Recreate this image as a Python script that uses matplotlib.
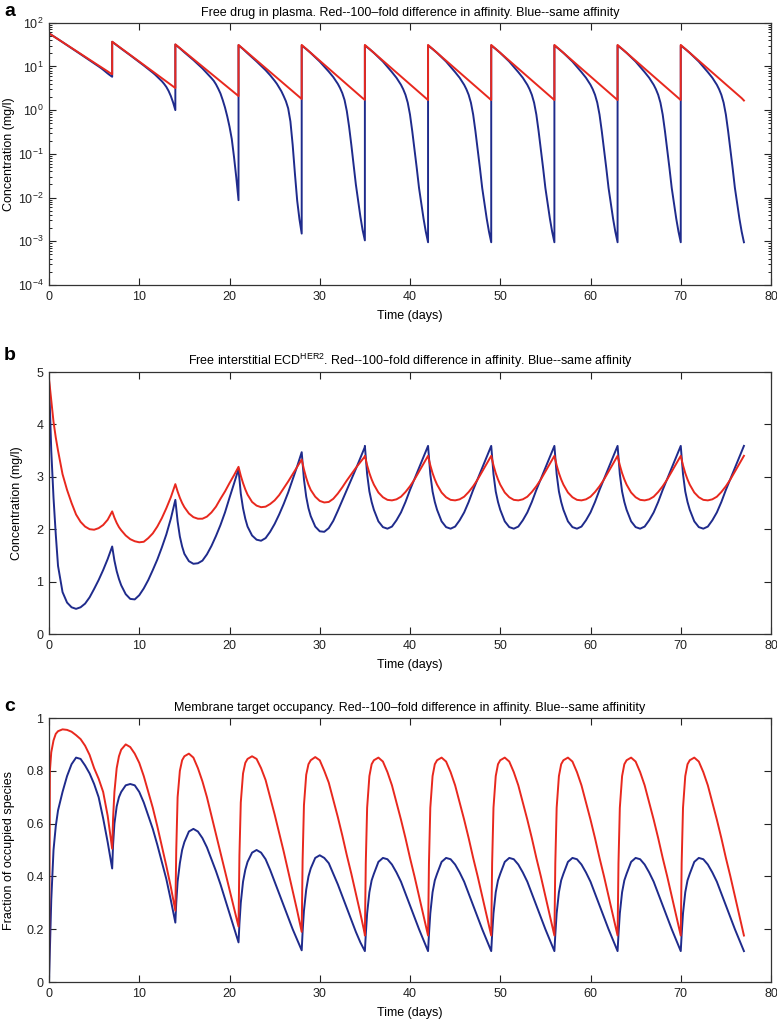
import numpy as np
import matplotlib
matplotlib.use("Agg")
import matplotlib.pyplot as plt
from matplotlib.ticker import LogLocator, NullFormatter, FixedLocator

plt.rcParams['font.family'] = ['Liberation Sans', 'DejaVu Sans']
plt.rcParams['mathtext.default'] = 'regular'

# ---------------- data ----------------
dose_days = [0, 7, 14, 21, 28, 35, 42, 49, 56, 63, 70]

# Panel a: free drug in plasma (mg/l), sampled at these offsets (days) after each dose
a_offsets = [0, 0.5, 1, 2, 3, 3.5, 4, 4.25, 4.5, 4.75, 5, 5.25, 5.5, 5.75, 6, 6.25, 6.5, 6.75, 7]
a_red = [
    57.1, 49.0, 42.0, 30.8, 22.7, 19.4, 16.6, 15.4, 14.3, 13.2, 12.2, 11.3, 10.5, 9.7, 9.0, 8.3, 7.7, 7.1, 6.6,
    36.8, 30.9, 26.0, 18.3, 12.9, 10.8, 9.1, 8.35, 7.65, 7.0, 6.4, 5.9, 5.4, 4.95, 4.5, 4.15, 3.8, 3.5, 3.2,
    32.0, 26.3, 21.7, 14.7, 9.95, 8.2, 6.75, 6.1, 5.55, 5.05, 4.57, 4.15, 3.77, 3.41, 3.1, 2.81, 2.55, 2.31, 2.1,
    31.0, 25.3, 20.6, 13.7, 9.15, 7.46, 6.09, 5.5, 4.97, 4.49, 4.05, 3.66, 3.31, 2.99, 2.7, 2.44, 2.2, 1.99, 1.8,
    31.0, 25.2, 20.5, 13.5, 8.93, 7.26, 5.9, 5.32, 4.8, 4.32, 3.9, 3.51, 3.16, 2.85, 2.57, 2.32, 2.09, 1.88, 1.72,
    31.0, 25.2, 20.5, 13.5, 8.93, 7.26, 5.9, 5.32, 4.8, 4.32, 3.9, 3.51, 3.16, 2.85, 2.57, 2.32, 2.09, 1.88, 1.70,
    31.0, 25.2, 20.5, 13.5, 8.93, 7.26, 5.9, 5.32, 4.8, 4.32, 3.9, 3.51, 3.16, 2.85, 2.57, 2.32, 2.09, 1.88, 1.70,
    31.0, 25.2, 20.5, 13.5, 8.93, 7.26, 5.9, 5.32, 4.8, 4.32, 3.9, 3.51, 3.16, 2.85, 2.57, 2.32, 2.09, 1.88, 1.70,
    31.0, 25.2, 20.5, 13.5, 8.93, 7.26, 5.9, 5.32, 4.8, 4.32, 3.9, 3.51, 3.16, 2.85, 2.57, 2.32, 2.09, 1.88, 1.70,
    31.0, 25.2, 20.5, 13.5, 8.93, 7.26, 5.9, 5.32, 4.8, 4.32, 3.9, 3.51, 3.16, 2.85, 2.57, 2.32, 2.09, 1.88, 1.70,
    31.0, 25.2, 20.5, 13.5, 8.93, 7.26, 5.9, 5.32, 4.8, 4.32, 3.9, 3.51, 3.16, 2.85, 2.57, 2.32, 2.09, 1.88, 1.66,
]
a_blue = [
    57.1, 49.0, 42.0, 30.5, 22.2, 19.0, 16.2, 15.0, 13.9, 12.8, 11.8, 10.9, 10.0, 9.2, 8.4, 7.6, 6.9, 6.3, 5.8,
    36.5, 30.5, 25.5, 18.0, 12.6, 10.5, 8.7, 7.9, 7.2, 6.5, 5.8, 5.2, 4.6, 4.0, 3.4, 2.75, 2.1, 1.5, 1.0,
    31.5, 26.0, 21.0, 14.0, 9.0, 7.0, 5.4, 4.7, 3.9, 3.1, 2.4, 1.7, 1.15, 0.72, 0.42, 0.22, 0.085, 0.029, 0.0087,
    30.5, 25.0, 20.0, 13.0, 8.2, 6.3, 4.7, 4.0, 3.3, 2.7, 2.1, 1.6, 1.1, 0.55, 0.16, 0.035, 0.0085, 0.0032, 0.0015,
    30.0, 25.0, 20.3, 12.9, 7.6, 5.7, 4.0, 3.2, 2.45, 1.7, 0.95, 0.42, 0.16, 0.058, 0.02, 0.0085, 0.0037, 0.0018, 0.00105,
    30.0, 25.0, 20.4, 12.9, 7.4, 5.5, 3.8, 3.0, 2.24, 1.48, 0.79, 0.33, 0.126, 0.047, 0.0166, 0.0074, 0.0033, 0.00166, 0.00095,
    30.0, 25.0, 20.4, 12.9, 7.4, 5.5, 3.8, 3.0, 2.24, 1.48, 0.79, 0.33, 0.126, 0.047, 0.0166, 0.0074, 0.0033, 0.00166, 0.00095,
    30.0, 25.0, 20.4, 12.9, 7.4, 5.5, 3.8, 3.0, 2.24, 1.48, 0.79, 0.33, 0.126, 0.047, 0.0166, 0.0074, 0.0033, 0.00166, 0.00095,
    30.0, 25.0, 20.4, 12.9, 7.4, 5.5, 3.8, 3.0, 2.24, 1.48, 0.79, 0.33, 0.126, 0.047, 0.0166, 0.0074, 0.0033, 0.00166, 0.00095,
    30.0, 25.0, 20.4, 12.9, 7.4, 5.5, 3.8, 3.0, 2.24, 1.48, 0.79, 0.33, 0.126, 0.047, 0.0166, 0.0074, 0.0033, 0.00166, 0.00095,
    30.0, 25.0, 20.4, 12.9, 7.4, 5.5, 3.8, 3.0, 2.24, 1.48, 0.79, 0.33, 0.126, 0.047, 0.0166, 0.0074, 0.0033, 0.00166, 0.00095,
]

# Panel b: free interstitial ECD-HER2 (mg/l)
b_offsets = [0, 0.25, 0.5, 0.75, 1, 1.5, 2, 2.5, 3, 3.5, 4, 4.5, 5, 5.5, 6, 6.5, 7]
b_red = [
    4.87, 4.45, 4.05, 3.75, 3.5, 3.05, 2.75, 2.5, 2.28, 2.14, 2.05, 2.0, 1.99, 2.02, 2.08, 2.18, 2.34,
    2.34, 2.22, 2.12, 2.04, 1.98, 1.88, 1.81, 1.77, 1.75, 1.76, 1.83, 1.92, 2.05, 2.21, 2.40, 2.61, 2.86,
    2.86, 2.72, 2.60, 2.50, 2.42, 2.30, 2.23, 2.20, 2.20, 2.24, 2.32, 2.43, 2.58, 2.72, 2.88, 3.03, 3.19,
    3.19, 3.02, 2.88, 2.76, 2.66, 2.52, 2.45, 2.42, 2.43, 2.48, 2.55, 2.65, 2.78, 2.91, 3.05, 3.19, 3.33,
    3.33, 3.14, 2.98, 2.85, 2.75, 2.62, 2.54, 2.51, 2.52, 2.58, 2.68, 2.80, 2.93, 3.05, 3.17, 3.28, 3.39,
    3.40, 3.22, 3.07, 2.95, 2.85, 2.70, 2.61, 2.56, 2.55, 2.57, 2.62, 2.71, 2.82, 2.95, 3.10, 3.25, 3.40,
    3.40, 3.22, 3.07, 2.95, 2.85, 2.70, 2.61, 2.56, 2.55, 2.57, 2.62, 2.71, 2.82, 2.95, 3.10, 3.25, 3.40,
    3.40, 3.22, 3.07, 2.95, 2.85, 2.70, 2.61, 2.56, 2.55, 2.57, 2.62, 2.71, 2.82, 2.95, 3.10, 3.25, 3.40,
    3.40, 3.22, 3.07, 2.95, 2.85, 2.70, 2.61, 2.56, 2.55, 2.57, 2.62, 2.71, 2.82, 2.95, 3.10, 3.25, 3.40,
    3.40, 3.22, 3.07, 2.95, 2.85, 2.70, 2.61, 2.56, 2.55, 2.57, 2.62, 2.71, 2.82, 2.95, 3.10, 3.25, 3.40,
    3.40, 3.22, 3.07, 2.95, 2.85, 2.70, 2.61, 2.56, 2.55, 2.57, 2.62, 2.71, 2.82, 2.95, 3.10, 3.25, 3.40,
]
b_blue = [
    4.85, 3.5, 2.6, 1.9, 1.3, 0.80, 0.60, 0.51, 0.48, 0.51, 0.58, 0.70, 0.86, 1.03, 1.22, 1.43, 1.67,
    1.67, 1.40, 1.20, 1.05, 0.93, 0.76, 0.67, 0.66, 0.74, 0.87, 1.03, 1.22, 1.42, 1.65, 1.90, 2.20, 2.56,
    2.56, 2.15, 1.86, 1.67, 1.53, 1.39, 1.34, 1.35, 1.40, 1.52, 1.68, 1.87, 2.08, 2.32, 2.60, 2.87, 3.15,
    3.15, 2.68, 2.40, 2.20, 2.05, 1.88, 1.80, 1.78, 1.83, 1.95, 2.10, 2.28, 2.48, 2.70, 2.95, 3.20, 3.47,
    3.47, 2.95, 2.62, 2.40, 2.25, 2.05, 1.96, 1.95, 2.02, 2.16, 2.35, 2.55, 2.75, 2.95, 3.15, 3.36, 3.57,
    3.59, 3.05, 2.72, 2.52, 2.37, 2.15, 2.04, 2.01, 2.05, 2.17, 2.32, 2.52, 2.75, 2.96, 3.17, 3.38, 3.59,
    3.59, 3.05, 2.72, 2.52, 2.37, 2.15, 2.04, 2.01, 2.05, 2.17, 2.32, 2.52, 2.75, 2.96, 3.17, 3.38, 3.59,
    3.59, 3.05, 2.72, 2.52, 2.37, 2.15, 2.04, 2.01, 2.05, 2.17, 2.32, 2.52, 2.75, 2.96, 3.17, 3.38, 3.59,
    3.59, 3.05, 2.72, 2.52, 2.37, 2.15, 2.04, 2.01, 2.05, 2.17, 2.32, 2.52, 2.75, 2.96, 3.17, 3.38, 3.59,
    3.59, 3.05, 2.72, 2.52, 2.37, 2.15, 2.04, 2.01, 2.05, 2.17, 2.32, 2.52, 2.75, 2.96, 3.17, 3.38, 3.59,
    3.59, 3.05, 2.72, 2.52, 2.37, 2.15, 2.04, 2.01, 2.05, 2.17, 2.32, 2.52, 2.75, 2.96, 3.17, 3.38, 3.59,
]

# Panel c: membrane target occupancy (fraction of occupied species)
c_offsets = [0, 0.1, 0.25, 0.5, 0.75, 1, 1.5, 2, 2.5, 3, 3.5, 4, 4.5, 5, 5.5, 6, 6.5, 7]
c_red = [
    0.0, 0.80, 0.87, 0.915, 0.94, 0.95, 0.957, 0.955, 0.948, 0.935, 0.92, 0.895, 0.86, 0.81, 0.77, 0.72, 0.63, 0.505,
    0.505, 0.62, 0.72, 0.81, 0.855, 0.88, 0.90, 0.89, 0.865, 0.83, 0.78, 0.72, 0.66, 0.59, 0.515, 0.44, 0.36, 0.27,
    0.27, 0.50, 0.70, 0.80, 0.84, 0.855, 0.865, 0.85, 0.81, 0.76, 0.70, 0.63, 0.56, 0.49, 0.42, 0.35, 0.28, 0.21,
    0.21, 0.48, 0.68, 0.79, 0.83, 0.845, 0.855, 0.845, 0.81, 0.765, 0.70, 0.635, 0.565, 0.495, 0.42, 0.345, 0.27, 0.19,
    0.19, 0.46, 0.67, 0.785, 0.825, 0.84, 0.852, 0.84, 0.80, 0.755, 0.69, 0.625, 0.555, 0.48, 0.41, 0.335, 0.26, 0.18,
    0.176, 0.45, 0.66, 0.78, 0.825, 0.84, 0.85, 0.835, 0.795, 0.745, 0.68, 0.615, 0.545, 0.47, 0.40, 0.325, 0.25, 0.176,
    0.176, 0.45, 0.66, 0.78, 0.825, 0.84, 0.85, 0.835, 0.795, 0.745, 0.68, 0.615, 0.545, 0.47, 0.40, 0.325, 0.25, 0.176,
    0.176, 0.45, 0.66, 0.78, 0.825, 0.84, 0.85, 0.835, 0.795, 0.745, 0.68, 0.615, 0.545, 0.47, 0.40, 0.325, 0.25, 0.176,
    0.176, 0.45, 0.66, 0.78, 0.825, 0.84, 0.85, 0.835, 0.795, 0.745, 0.68, 0.615, 0.545, 0.47, 0.40, 0.325, 0.25, 0.176,
    0.176, 0.45, 0.66, 0.78, 0.825, 0.84, 0.85, 0.835, 0.795, 0.745, 0.68, 0.615, 0.545, 0.47, 0.40, 0.325, 0.25, 0.176,
    0.176, 0.45, 0.66, 0.78, 0.825, 0.84, 0.85, 0.835, 0.795, 0.745, 0.68, 0.615, 0.545, 0.47, 0.40, 0.325, 0.25, 0.176,
]
c_blue = [
    0.0, 0.12, 0.31, 0.50, 0.59, 0.65, 0.72, 0.78, 0.825, 0.85, 0.845, 0.82, 0.79, 0.75, 0.70, 0.62, 0.53, 0.43,
    0.43, 0.52, 0.60, 0.665, 0.70, 0.72, 0.745, 0.75, 0.745, 0.72, 0.68, 0.63, 0.58, 0.52, 0.455, 0.39, 0.31, 0.225,
    0.225, 0.30, 0.38, 0.45, 0.50, 0.53, 0.57, 0.58, 0.57, 0.545, 0.51, 0.465, 0.42, 0.37, 0.315, 0.26, 0.205, 0.15,
    0.15, 0.22, 0.30, 0.38, 0.425, 0.455, 0.49, 0.50, 0.49, 0.465, 0.425, 0.38, 0.335, 0.29, 0.245, 0.20, 0.16, 0.12,
    0.12, 0.19, 0.27, 0.35, 0.40, 0.43, 0.47, 0.48, 0.47, 0.45, 0.41, 0.37, 0.325, 0.28, 0.235, 0.19, 0.15, 0.117,
    0.117, 0.18, 0.26, 0.34, 0.385, 0.41, 0.455, 0.47, 0.465, 0.445, 0.415, 0.38, 0.335, 0.29, 0.245, 0.20, 0.158, 0.117,
    0.117, 0.18, 0.26, 0.34, 0.385, 0.41, 0.455, 0.47, 0.465, 0.445, 0.415, 0.38, 0.335, 0.29, 0.245, 0.20, 0.158, 0.117,
    0.117, 0.18, 0.26, 0.34, 0.385, 0.41, 0.455, 0.47, 0.465, 0.445, 0.415, 0.38, 0.335, 0.29, 0.245, 0.20, 0.158, 0.117,
    0.117, 0.18, 0.26, 0.34, 0.385, 0.41, 0.455, 0.47, 0.465, 0.445, 0.415, 0.38, 0.335, 0.29, 0.245, 0.20, 0.158, 0.117,
    0.117, 0.18, 0.26, 0.34, 0.385, 0.41, 0.455, 0.47, 0.465, 0.445, 0.415, 0.38, 0.335, 0.29, 0.245, 0.20, 0.158, 0.117,
    0.117, 0.18, 0.26, 0.34, 0.385, 0.41, 0.455, 0.47, 0.465, 0.445, 0.415, 0.38, 0.335, 0.29, 0.245, 0.20, 0.158, 0.117,
]

titles = [
    "Free drug in plasma. Red--100\u2013fold difference in affinity. Blue--same affinity",
    "Free interstitial ECD$^{HER2}$. Red--100\u2013fold difference in affinity. Blue--same affinity",
    "Membrane target occupancy. Red--100\u2013fold difference in affinity. Blue--same affinitity",
]
ylabels = ["Concentration (mg/l)", "Concentration (mg/l)", "Fraction of occupied species"]
letters = ["a", "b", "c"]
xlabel = "Time (days)"
x_ticks = [0, 10, 20, 30, 40, 50, 60, 70, 80]

RED = "#e8281e"
BLUE = "#1f2b8c"


def times(offsets):
    return np.concatenate([d + np.asarray(offsets, float) for d in dose_days])


W, H = 777, 1022
fig = plt.figure(figsize=(W / 100, H / 100), dpi=100)

boxes = [(22.7, 285), (372, 634), (718, 982)]   # (top, bottom) in pixels
left_px, right_px = 49, 771
ylabel_x_px = [9, 17, 9]
axes = []
for top, bot in boxes:
    ax = fig.add_axes([left_px / W, 1 - bot / H, (right_px - left_px) / W, (bot - top) / H])
    axes.append(ax)

panels = [
    (a_offsets, a_red, a_blue),
    (b_offsets, b_red, b_blue),
    (c_offsets, c_red, c_blue),
]

for i, (ax, (offs, red, blue)) in enumerate(zip(axes, panels)):
    t = times(offs)
    ax.plot(t, blue, color=BLUE, lw=1.4, solid_joinstyle='round')
    ax.plot(t, red, color=RED, lw=1.4, solid_joinstyle='round')
    ax.set_xlim(0, 80)
    ax.set_xticks(x_ticks)
    ax.set_xlabel(xlabel, fontsize=9, labelpad=5)
    ax.set_ylabel(ylabels[i], fontsize=9, va='center')
    ax.yaxis.set_label_coords((ylabel_x_px[i] - left_px) / (right_px - left_px), 0.5)
    ax.set_title(titles[i], fontsize=9, pad=5)
    for s in ax.spines.values():
        s.set_linewidth(0.9)
        s.set_color("#333333")
    ax.tick_params(direction='in', top=True, right=True, length=5, width=0.8,
                   labelsize=9, colors="#222222", pad=4)
    ax.xaxis.set_minor_locator(FixedLocator([]))

axes[0].set_yscale('log')
axes[0].set_ylim(1e-4, 1e2)
axes[0].yaxis.set_major_locator(LogLocator(base=10, numticks=10))
axes[0].yaxis.set_minor_locator(LogLocator(base=10, subs=np.arange(2, 10), numticks=100))
axes[0].yaxis.set_minor_formatter(NullFormatter())
axes[0].tick_params(axis='y', which='minor', direction='in', left=True, right=True, length=2.5, width=0.6)

axes[1].set_ylim(0, 5)
axes[1].set_yticks([0, 1, 2, 3, 4, 5])
axes[1].yaxis.set_minor_locator(FixedLocator([]))

axes[2].set_ylim(0, 1)
axes[2].set_yticks([0, 0.2, 0.4, 0.6, 0.8, 1])
axes[2].set_yticklabels(["0", "0.2", "0.4", "0.6", "0.8", "1"])
axes[2].yaxis.set_minor_locator(FixedLocator([]))

letter_y = [12, 355, 706]
for L, ypx in zip(letters, letter_y):
    fig.text(4 / W, 1 - ypx / H, L, fontsize=14, fontweight='bold', va='center', ha='left')

fig.savefig("out.png", dpi=100)
